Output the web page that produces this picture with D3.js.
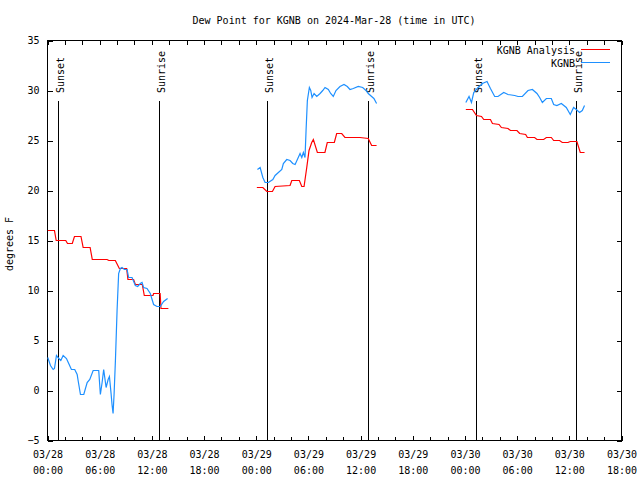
<!DOCTYPE html>
<html>
<head>
<meta charset="utf-8">
<script src="https://cdn.jsdelivr.net/npm/d3@7"></script>
<style>
  body { margin: 0; background: #fff; }
  text { font-family: "DejaVu Sans Mono", "Liberation Mono", monospace; font-size: 10px; fill: #000; }
</style>
</head>
<body>
<svg id="chart" width="640" height="480"></svg>
<script>
// ---- data (hours since 2024-03-28 00:00 UTC) ----
const titleText = "Dew Point for KGNB on 2024-Mar-28 (time in UTC)";
const yLabelText = "degrees F";
const seriesNames = ["KGNB Analysis", "KGNB"];
const seriesColors = ["#ff0000", "#1e90ff"];

const analysisHours = [0.03,0.8,1.0,2.1,2.3,2.85,3.1,3.85,4.1,4.9,5.15,6.85,7.05,7.8,8.26,9.1,9.25,9.9,10.1,10.9,11.13,12.13,12.2,12.95,13.05,13.9,
  19,
  24.07,24.76,25.22,25.86,26.17,27.89,28.09,28.96,29.24,29.5,29.81,30.07,30.38,30.57,31.03,31.9,32.17,32.98,33.25,33.83,34.2,35.93,36.88,37.27,37.84,
  43,
  48.1,48.86,49.32,49.9,50.16,50.93,51.16,51.92,52.19,52.95,53.23,53.98,54.29,54.98,55.18,56.01,56.28,57.05,57.36,57.93,58.2,58.88,59.19,59.84,60.11,60.87,61.26,61.75];
const analysisValues = [16.0,16.0,15.0,15.0,14.7,14.7,15.4,15.4,14.3,14.3,13.1,13.1,13.0,13.0,12.2,12.2,11.1,11.1,10.6,10.6,9.5,9.5,9.7,9.7,8.2,8.2,
  null,
  20.3,20.3,19.9,19.9,20.4,20.5,21.0,21.0,20.4,20.4,22.3,24.0,24.8,25.1,23.8,23.8,24.8,24.8,25.7,25.7,25.3,25.3,25.2,24.5,24.5,
  null,
  28.1,28.1,27.5,27.4,27.1,27.1,26.7,26.6,26.3,26.2,26.0,26.0,25.7,25.6,25.3,25.3,25.1,25.1,25.3,25.3,25.0,25.0,24.8,24.8,24.9,24.9,23.8,23.8];

const obsHours = [0.03,0.34,0.65,0.8,1.03,1.3,1.53,1.8,2.18,2.44,2.75,3.13,3.41,3.52,3.79,4.17,4.56,4.86,5.25,5.89,6.08,6.28,6.46,6.74,6.97,7.12,7.31,7.43,7.54,7.66,7.81,8.0,8.18,8.38,8.57,8.84,9.15,9.33,9.72,10.1,10.37,10.67,10.87,11.05,11.44,11.82,12.2,12.59,12.97,13.35,13.81,
  19,
  24.14,24.45,24.76,25.02,25.4,25.91,26.17,26.55,26.94,27.12,27.51,27.89,28.2,28.47,28.73,29.04,29.24,29.42,29.61,29.73,29.88,30.11,30.27,30.42,30.65,30.96,31.34,31.65,31.91,32.29,32.56,32.86,33.17,33.63,34.09,34.47,34.78,35.16,35.73,36.24,36.62,36.88,37.27,37.53,37.84,
  43,
  48.1,48.47,48.75,49.01,49.51,50.01,50.54,50.93,51.42,51.8,52.46,52.95,53.72,54.1,54.6,55.25,55.75,56.28,56.59,56.9,57.36,57.93,58.2,58.57,59.08,59.65,60.11,60.49,60.8,61.18,61.49,61.75];
const obsValues = [3.3,2.5,2.1,2.2,3.5,3.2,3.0,3.5,3.2,2.7,2.1,2.1,1.6,1.0,-0.4,-0.4,0.8,1.1,2.0,2.0,-0.4,0.8,2.1,0.3,1.1,1.4,-0.3,-1.5,-2.3,-0.3,3.0,8.0,11.7,12.2,12.3,12.1,12.1,11.3,11.3,10.5,10.4,10.7,10.8,10.3,10.2,9.7,8.6,8.4,8.4,8.9,9.2,
  null,
  22.1,22.3,21.3,20.8,20.8,21.1,21.5,21.8,22.1,22.7,23.1,23.0,22.7,22.6,23.1,23.7,23.3,23.8,23.3,26.0,29.0,30.3,30.0,29.3,29.7,29.4,29.7,30.0,30.3,30.1,29.7,29.4,30.0,30.4,30.6,30.4,30.1,30.2,30.4,30.3,30.0,29.7,29.4,29.2,28.7,
  null,
  28.8,29.4,28.8,29.8,30.3,30.7,30.9,30.2,29.4,29.4,29.8,29.6,29.5,29.4,29.4,30.0,30.1,29.7,29.3,28.8,29.2,29.2,28.6,28.5,28.7,28.3,27.6,28.3,28.1,27.8,28.0,28.5];

const sunsetHours = [1.18, 25.22, 49.24];
const sunriseHours = [12.78, 36.88, 60.72];

const xTickHours = [0, 6, 12, 18, 24, 30, 36, 42, 48, 54, 60, 66];
const xTickDates = ["03/28","03/28","03/28","03/28","03/29","03/29","03/29","03/29","03/30","03/30","03/30","03/30"];
const xTickTimes = ["00:00","06:00","12:00","18:00","00:00","06:00","12:00","18:00","00:00","06:00","12:00","18:00"];
const xMinorHours = d3.range(0, 67, 2);
const yTicks = [-5, 0, 5, 10, 15, 20, 25, 30, 35];

// ---- layout ----
const L = 47.5, R = 621.5, T = 40.5, B = 440.5;
const svg = d3.select("#chart");
svg.append("rect").attr("width", 640).attr("height", 480).attr("fill", "#fff");

const x = d3.scaleLinear().domain([0, 66]).range([L, R]);
const y = d3.scaleLinear().domain([-5, 35]).range([B, T]);

// title
svg.append("text").attr("x", 334).attr("y", 24).attr("text-anchor", "middle").text(titleText);
// y label
svg.append("text").attr("transform", "translate(13,244) rotate(-90)").attr("text-anchor", "middle").text(yLabelText);

// axes
const gl = svg.append("g").attr("transform", `translate(${L},0)`)
  .call(d3.axisLeft(y).tickValues(yTicks).tickSizeInner(-5).tickSizeOuter(0).tickPadding(8));
const gr = svg.append("g").attr("transform", `translate(${R},0)`)
  .call(d3.axisRight(y).tickValues(yTicks).tickSizeInner(-5).tickSizeOuter(0).tickFormat(""));
const gb = svg.append("g").attr("transform", `translate(0,${B})`)
  .call(d3.axisBottom(x).tickValues(xMinorHours).tickSizeInner(-4).tickSizeOuter(0).tickFormat(""));
const gt = svg.append("g").attr("transform", `translate(0,${T})`)
  .call(d3.axisTop(x).tickValues(xMinorHours).tickSizeInner(-4).tickSizeOuter(0).tickFormat(""));
const gbl = svg.append("g").attr("transform", `translate(0,${B})`)
  .call(d3.axisBottom(x).tickValues(xTickHours).tickSizeInner(-5).tickSizeOuter(0)
    .tickFormat((d, i) => xTickDates[i]));
gbl.selectAll(".tick text").each(function(d, i) {
  const t = d3.select(this);
  t.attr("y", 0).attr("dy", null).text(null);
  t.append("tspan").attr("x", 0).attr("y", 17.5).text(xTickDates[i]);
  t.append("tspan").attr("x", 0).attr("y", 33.5).text(xTickTimes[i]);
});
[gl, gr, gb, gt, gbl].forEach(g => {
  g.select(".domain").remove();
  g.selectAll("line").attr("stroke", "#000").attr("shape-rendering", "crispEdges");
  g.selectAll("text").attr("font-family", null).attr("font-size", null).attr("fill", "#000");
});

// border
svg.append("rect").attr("x", L).attr("y", T).attr("width", R - L).attr("height", B - T)
  .attr("fill", "none").attr("stroke", "#000").attr("shape-rendering", "crispEdges");

// sunrise / sunset markers
const marks = sunsetHours.map(h => ({h, label: "Sunset"}))
  .concat(sunriseHours.map(h => ({h, label: "Sunrise"})));
marks.forEach(m => {
  const xp = Math.round(x(m.h)) + 0.5;
  svg.append("line").attr("x1", xp).attr("x2", xp).attr("y1", y(29)).attr("y2", B)
    .attr("stroke", "#000").attr("stroke-width", 1.3).attr("shape-rendering", "crispEdges");
  svg.append("text").attr("transform", `translate(${xp + 5},93) rotate(-90)`).text(m.label);
});

// series
function toPts(hs, vs) { return hs.map((h, i) => ({h, v: vs[i]})); }
const line = d3.line().defined(d => d.v != null).x(d => x(d.h)).y(d => y(d.v));
svg.append("path").datum(toPts(analysisHours, analysisValues)).attr("d", line)
  .attr("fill", "none").attr("stroke", seriesColors[0]).attr("stroke-width", 1.2);
svg.append("path").datum(toPts(obsHours, obsValues)).attr("d", line)
  .attr("fill", "none").attr("stroke", seriesColors[1]).attr("stroke-width", 1.2);

// legend
const legY = [50, 63];
seriesNames.forEach((n, i) => {
  svg.append("text").attr("x", 575).attr("y", legY[i]).attr("dy", "0.35em").attr("text-anchor", "end").text(n);
  svg.append("line").attr("x1", 581).attr("x2", 610).attr("y1", legY[i] - 0.5).attr("y2", legY[i] - 0.5)
    .attr("stroke", seriesColors[i]).attr("stroke-width", 1).attr("shape-rendering", "crispEdges");
});
</script>
</body>
</html>
